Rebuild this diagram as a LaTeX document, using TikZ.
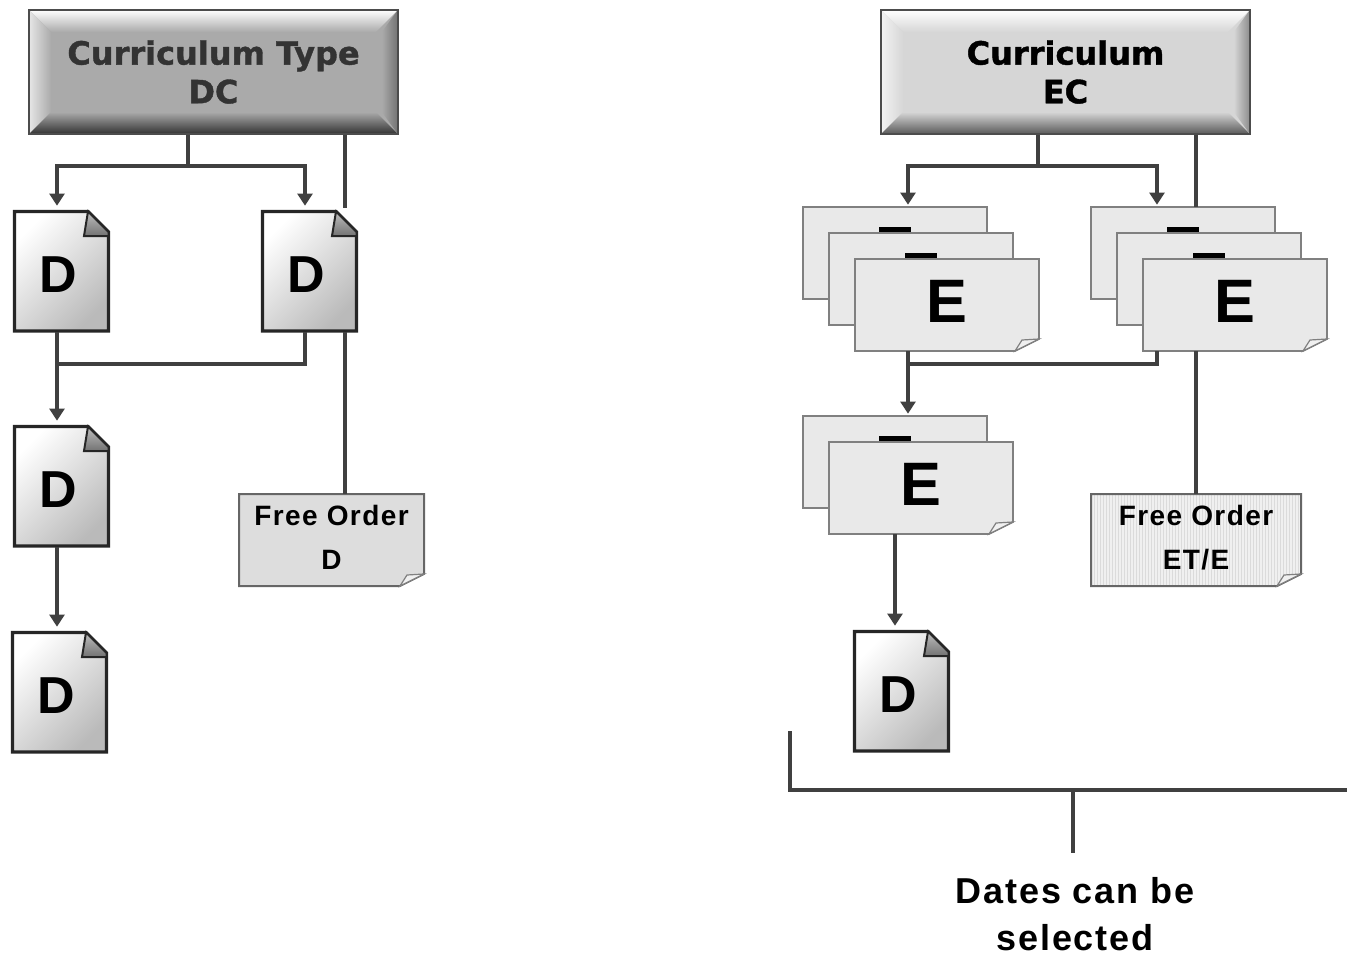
\documentclass[tikz,border=0pt]{standalone}
\usepackage{fontspec}
\setmainfont{Liberation Sans}
\newfontfamily\headfont[BoldFeatures={FakeBold=1.2}]{DejaVu Sans}
\newfontfamily\widefont[LetterSpace=5]{Liberation Sans}
\usetikzlibrary{arrows.meta,calc}
\tikzset{every node/.append style={align=center}}
\definecolor{linecolor}{RGB}{64, 64, 64}
\definecolor{darkface}{RGB}{170, 170, 170}
\definecolor{lightface}{RGB}{214, 214, 214}
\definecolor{cardcolor}{RGB}{233, 233, 233}
\definecolor{freecolor}{RGB}{221, 221, 221}
\tikzset{
    conn/.style={line width=2.8pt, linecolor},
    arrow/.style={conn, -{Triangle[width=11pt, length=9pt]}, shorten >=3pt},
    cardarrow/.style={arrow, shorten >=1.5pt},
    bevel/.style n args={4}{draw=black!70, line width=1.5pt, minimum width=276.5pt, minimum height=93pt, inner sep=0pt, fill=#1,
        path picture={
            \coordinate (nw) at (path picture bounding box.north west);
            \coordinate (ne) at (path picture bounding box.north east);
            \coordinate (sw) at (path picture bounding box.south west);
            \coordinate (se) at (path picture bounding box.south east);
            \shade[top color=#2, bottom color=#1] (nw) -- (ne) -- ($(ne)+(-22,22)$) -- ($(nw)+(22,22)$) -- cycle;
            \shade[left color=#2!70!#1, right color=#1] (nw) -- ($(nw)+(22,22)$) -- ($(sw)+(22,-22)$) -- (sw) -- cycle;
            \shade[top color=#1, bottom color=#3] ($(sw)+(22,-22)$) -- ($(se)+(-22,-22)$) -- (se) -- (sw) -- cycle;
            \shade[left color=#1, right color=#4] ($(ne)+(-16,22)$) -- (ne) -- (se) -- ($(se)+(-16,-22)$) -- cycle;
        }},
    headtext/.style={font=\headfont\bfseries\fontsize{24}{29}\selectfont},
    docbase/.style={minimum width=72.75pt, minimum height=91.5pt, inner sep=0pt},
    docpaper/.style={draw=black!85, line width=2.6pt, line join=miter, shading=axis, top color=white, bottom color=black!27, shading angle=45},
    docfold/.style={draw=black!85, line width=1.5pt, shading=axis, top color=black!25, bottom color=black!55},
    docletter/.style={font=\bfseries\fontsize{39}{39}\selectfont, inner sep=0pt},
    cardbase/.style={minimum height=69pt, inner sep=0pt},
    cardpaper/.style={draw=black!50, line width=1.3pt, fill=cardcolor},
    freepaper/.style={draw=black!60, line width=1.5pt, fill=freecolor},
    stripepaper/.style={draw=black!60, line width=1.5pt, fill=black!6,
        path picture={
            \foreach \sx in {0,3,...,210}
                \draw[black!14, line width=0.6pt] ($(path picture bounding box.north west)+(\sx,0)$) -- ++(0,93);
        }},
    curl/.style={draw=black!50, line width=0.9pt, fill=black!6},
    cardletter/.style={font=\bfseries\fontsize{46}{46}\selectfont, inner sep=0pt},
    cardbar/.style={fill=black, minimum width=24pt, minimum height=4.5pt, inner sep=0pt, yshift=14.25pt},
    freetext/.style={font=\widefont\bfseries\fontsize{21}{33}\selectfont, inner sep=0pt, yshift=-1pt},
    datestext/.style={font=\widefont\bfseries\fontsize{27}{35}\selectfont, inner sep=0pt}
}
% page with folded corner: name, x, y
\newcommand{\docnode}[3]{
    \begin{scope}[shift={(#2,#3)}]
        \draw[docpaper] (1.5,1.5) -- (75,1.5) -- (95.5,22) -- (95.5,121) -- (1.5,121) -- cycle;
        \draw[docfold] (75,1.5) -- (71,26) -- (95.5,26) -- (95.5,22) -- cycle;
        \node[docbase] (#1) at (48.5,61) {};
        \node[docletter] (#1-letter) at (45,65) {D};
    \end{scope}
}
% sheet with curled corner: [paper], name, x, y, width, text style, text
\newcommand{\cardnode}[7][cardpaper]{
    \begin{scope}[shift={(#3,#4)}]
        \path[#1] (0,0) -- (#5,0) -- (#5,80) -- ({#5-24},92) -- (0,92) -- cycle;
        \draw[curl] ({#5-24},92) -- ({#5-17},81) -- (#5,80) -- cycle;
        \node[cardbase, minimum width=#5*0.75pt] (#2) at ({#5/2},46) {};
        \node[#6] (#2-text) at ({#5/2},42) {#7};
    \end{scope}
}
\begin{document}
\begin{tikzpicture}[x=0.75pt, y=-0.75pt]
    \useasboundingbox (0,0) rectangle (1347,956);

    % Headers
    \node[bevel={darkface}{white}{black!80}{black!55}, headtext, text=black!80] (typedc) at (213.5,72) {Curriculum Type\\DC};
    \node[bevel={lightface}{white}{black!65}{black!45}, headtext, text=black] (currec) at (1065.5,72) {Curriculum\\EC};

    % Left column
    \docnode{dca}{13}{210}
    \docnode{dcb}{261}{210}
    \docnode{dcc}{13}{425}
    \docnode{dcd}{11}{631}
    \cardnode[freepaper]{freed}{239}{494}{185}{freetext}{Free Order\\D}

    % Right column
    \cardnode{eca}{803}{207}{184}{cardbar}{}
    \cardnode{ecb}{829}{233}{184}{cardbar}{}
    \cardnode{ecc}{855}{259}{184}{cardletter}{E}
    \cardnode{ecd}{1091}{207}{184}{cardbar}{}
    \cardnode{ece}{1117}{233}{184}{cardbar}{}
    \cardnode{ecf}{1143}{259}{184}{cardletter}{E}
    \cardnode{ecg}{803}{416}{184}{cardbar}{}
    \cardnode{ech}{829}{442}{184}{cardletter}{E}
    \cardnode[stripepaper]{freee}{1091}{494}{210}{freetext}{Free Order\\ET/E}
    \docnode{ecdoc}{853}{630}

    % Connectors left
    \coordinate (dcbus) at (188,166);
    \coordinate (dcleft) at (57,364);
    \coordinate (dcright) at (305,364);
    \coordinate (dcfree) at (345,208);
    \draw[conn] (typedc.south -| dcbus) -- (dcbus);
    \draw[arrow] (dcbus) -| (dca.north -| dcleft);
    \draw[arrow] (dcbus) -| (dcb.north -| dcright);
    \draw[conn] (typedc.south -| dcfree) -- (dcfree);
    \draw[conn] (dcb.south -| dcfree) -- (freed.north -| dcfree);
    \draw[arrow] (dca.south -| dcleft) -- (dcc.north -| dcleft);
    \draw[conn] (dcb.south -| dcright) |- (dcleft);
    \draw[arrow] (dcc.south -| dcleft) -- (dcd.north -| dcleft);

    % Connectors right
    \coordinate (ecbus) at (1038,166);
    \coordinate (ecleft) at (908,364);
    \coordinate (ecright) at (1157,364);
    \coordinate (ecfree) at (1196,207);
    \coordinate (ecdown) at (895,600);
    \draw[conn] (currec.south -| ecbus) -- (ecbus);
    \draw[cardarrow] (ecbus) -| (eca.north -| ecleft);
    \draw[cardarrow] (ecbus) -| (ecd.north -| ecright);
    \draw[conn] (currec.south -| ecfree) -- (ecfree);
    \draw[conn] (ecf.south -| ecfree) -- (freee.north -| ecfree);
    \draw[cardarrow] (ecc.south -| ecleft) -- (ecg.north -| ecleft);
    \draw[conn] (ecf.south -| ecright) |- (ecleft);
    \draw[arrow] (ech.south -| ecdown) -- (ecdoc.north -| ecdown);

    % Bracket
    \coordinate (brleft) at (790,731);
    \coordinate (brright) at (1347,790);
    \coordinate (brmid) at (1073,790);
    \coordinate (brtick) at (1073,853);
    \node[datestext] (dates) at (1075,914) {Dates can be\\selected};
    \draw[conn] (brleft) |- (brright);
    \draw[conn] (brmid) -- (brtick);
\end{tikzpicture}
\end{document}
